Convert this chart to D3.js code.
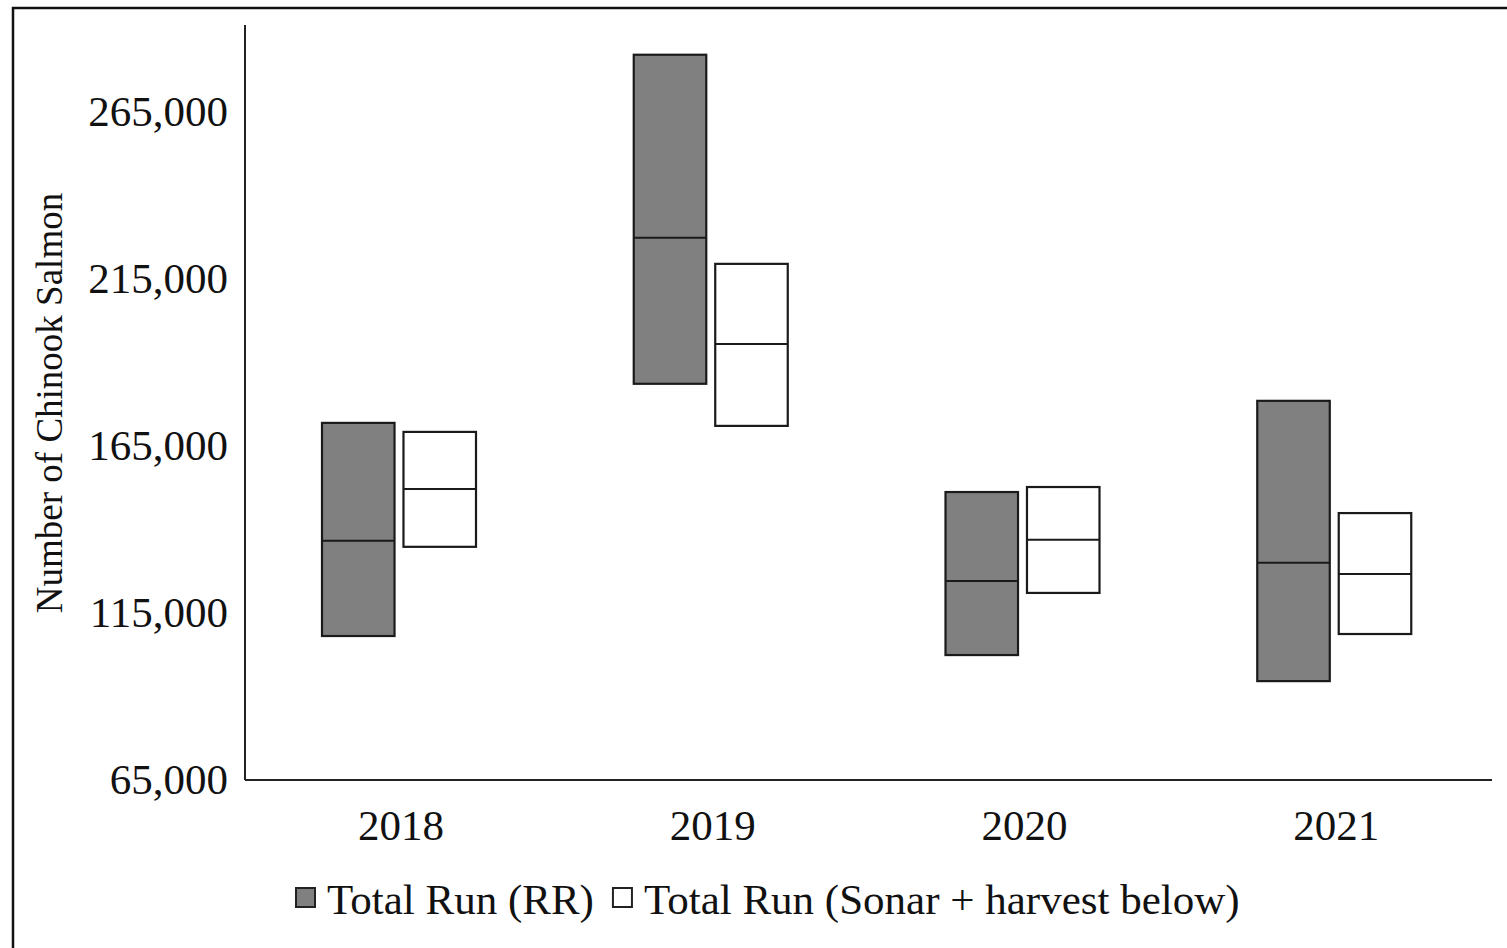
<!DOCTYPE html>
<html><head><meta charset="utf-8">
<script src="https://cdn.jsdelivr.net/npm/d3@7"></script>
<style>body{margin:0;background:#fff}svg{display:block}</style>
</head><body>
<svg id="c" width="1507" height="948"></svg>
<script>
const years = ["2018","2019","2020","2021"];
const seriesNames = ["Total Run (RR)","Total Run (Sonar + harvest below)"];
const rrLow  = [108100, 183600, 102400, 94600];
const rrMid  = [136600, 227300, 124600, 130000];
const rrHigh = [171900, 282100, 151200, 178500];
const snLow  = [134800, 171000, 121000, 108700];
const snMid  = [152100, 195500, 136900, 126700];
const snHigh = [169200, 219500, 152700, 144900];
const yTicks = [65000, 115000, 165000, 215000, 265000];

const svg = d3.select("#c");
const font = "'Liberation Serif','Times New Roman',serif";

// outer border
svg.append("rect").attr("x",13).attr("y",8).attr("width",1510).attr("height",960)
  .attr("fill","none").attr("stroke","#111").attr("stroke-width",2.5);

const x = d3.scaleBand().domain(years).range([245,1492]).padding(0);
const xs = d3.scaleBand().domain(seriesNames).range([77,231]).paddingInner(0.11).paddingOuter(0);
const y = d3.scaleLinear().domain([65000,291000]).range([780,25]);

const data = [];
years.forEach((yr,i)=>{
  data.push({yr, s:seriesNames[0], lo:rrLow[i], mid:rrMid[i], hi:rrHigh[i], fill:"#808080"});
  data.push({yr, s:seriesNames[1], lo:snLow[i], mid:snMid[i], hi:snHigh[i], fill:"#ffffff"});
});

const g = svg.append("g");
const boxes = g.selectAll("g.box").data(data).join("g");
boxes.append("rect")
  .attr("x",d=>x(d.yr)+xs(d.s)).attr("width",xs.bandwidth())
  .attr("y",d=>y(d.hi)).attr("height",d=>y(d.lo)-y(d.hi))
  .attr("fill",d=>d.fill).attr("stroke","#1a1a1a").attr("stroke-width",2.2);
boxes.append("line")
  .attr("x1",d=>x(d.yr)+xs(d.s)).attr("x2",d=>x(d.yr)+xs(d.s)+xs.bandwidth())
  .attr("y1",d=>y(d.mid)).attr("y2",d=>y(d.mid))
  .attr("stroke","#1a1a1a").attr("stroke-width",2);

// y axis
const yAxis = d3.axisLeft(y).tickValues(yTicks).tickSize(0).tickPadding(17).tickFormat(d3.format(","));
const ya = svg.append("g").attr("transform","translate(245,0)").call(yAxis);
ya.select(".domain").attr("stroke","#222").attr("stroke-width",2).attr("d","M0,25V780");
ya.selectAll("text").attr("font-family",font).attr("font-size",43).attr("fill","#111").attr("dy","0.32em");

// x axis
const xAxis = d3.axisBottom(x).tickSize(0).tickPadding(29);
const xa = svg.append("g").attr("transform","translate(0,780)").call(xAxis);
xa.select(".domain").attr("stroke","#222").attr("stroke-width",2).attr("d","M245,0H1492");
xa.selectAll("text").attr("font-family",font).attr("font-size",43).attr("fill","#111").attr("dy","0.71em");

// y title
svg.append("text").attr("transform","translate(62,403) rotate(-90)")
  .attr("text-anchor","middle").attr("font-family",font).attr("font-size",37).attr("fill","#111")
  .text("Number of Chinook Salmon");

// legend
const leg = svg.append("g");
const fills = ["#808080","#ffffff"];
let lx = 296;
seriesNames.forEach((s,i)=>{
  leg.append("rect").attr("x",lx).attr("y",888).attr("width",19).attr("height",19)
    .attr("fill",fills[i]).attr("stroke","#222").attr("stroke-width",2);
  const t = leg.append("text").attr("x",lx+31).attr("y",914).attr("font-family",font).attr("font-size",43)
    .attr("fill","#111").text(s);
  lx = lx + 31 + t.node().getComputedTextLength() + 19;
});
</script>
</body></html>
